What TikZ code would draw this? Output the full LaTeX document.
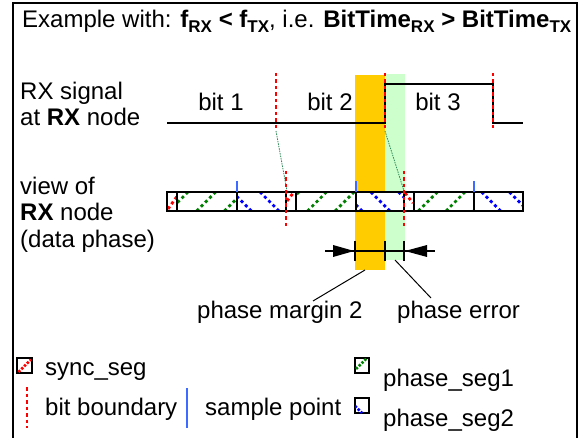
\documentclass[tikz,border=0pt]{standalone}
\usepackage{fontspec}
\setmainfont{Liberation Sans}
\definecolor{orng}{HTML}{FFCC00}
\definecolor{lgreen}{HTML}{CCFFCC}
\definecolor{spblue}{HTML}{3D6BFF}
\definecolor{dgreen}{HTML}{008000}
\definecolor{leadgreen}{HTML}{2E8B57}
\newcommand\sbs[1]{\raisebox{-0.2em}{\fontsize{17bp}{17bp}\selectfont #1}}
\begin{document}
\begin{tikzpicture}[x=1bp,y=-1bp,
  txt/.style={anchor=base west, inner sep=0pt, font=\fontsize{24bp}{28bp}\selectfont},
  sig/.style={line width=2.4bp, line join=miter},
  bb/.style={draw=red, line width=2.2bp, dash pattern=on 3.5bp off 3bp},
  spt/.style={draw=spblue, line width=2.2bp},
  greendot/.style={draw=dgreen, line width=2.8bp, dash pattern=on 3bp off 3bp},
  bluedot/.style={draw=blue, line width=2.8bp, dash pattern=on 3bp off 3bp},
  reddot/.style={draw=red, line width=2.8bp, dash pattern=on 3bp off 3bp},
  barline/.style={line width=2.2bp},
  leader/.style={draw=leadgreen, line width=0.8bp, dash pattern=on 1.5bp off 1bp},
  thinblack/.style={line width=1bp}
]
\useasboundingbox (0,0) rectangle (580,438);
% frame
\draw[line width=2bp] (13,438) -- (13,3) -- (577,3) -- (577,438);

% title
\node[txt] (title) at (22,28) {Example with: \textbf{f\sbs{RX} < f\sbs{TX}}, i.e. \textbf{BitTime\sbs{RX} > BitTime\sbs{TX}}};

% left labels
\node[txt] (l1) at (20,100) {RX signal};
\node[txt] (l2) at (20,126) {at \textbf{RX} node};
\node[txt] (l3) at (20,195) {view of};
\node[txt] (l4) at (20,221) {\textbf{RX} node};
\node[txt] (l5) at (20,248) {(data phase)};

% highlight regions
\fill[orng] (355,75) rectangle (385,270);
\fill[lgreen] (385,74) rectangle (405,260);

% signal
\coordinate (s0) at (167,123);
\coordinate (s1) at (385,123);
\coordinate (s2) at (385,84);
\coordinate (s3) at (493,84);
\coordinate (s4) at (493,123);
\coordinate (s5) at (523,123);
\draw[sig] (s0) -- (s1) -- (s2) -- (s3) -- (s4) -- (s5);

\node[txt, anchor=base] (b1) at (221,111) {bit 1};
\node[txt, anchor=base] (b2) at (330,111) {bit 2};
\node[txt, anchor=base] (b3) at (438,111) {bit 3};

% bit boundaries of signal
\coordinate (bt1) at (276,73); \coordinate (bb1) at (276,131);
\coordinate (bt2) at (385,73); \coordinate (bb2) at (385,131);
\coordinate (bt3) at (493,73); \coordinate (bb3) at (493,131);
\draw[bb] (bt1) -- (bb1);
\draw[bb] (bt2) -- (bb2);
\draw[bb] (bt3) -- (bb3);

% green leaders
\coordinate (r1) at (287,191);
\coordinate (r2) at (404,191);
\draw[leader] (bb1) -- (r1);
\draw[leader] (bb2) -- (r2);

% RX view bar
\fill[white] (167,192) rectangle (523,211);
% sync segments
\begin{scope}\clip (167,192) rectangle (177,211);
  \draw[reddot] (168,209) -- (178,195);
\end{scope}
\begin{scope}\clip (286,192) rectangle (296,211);
  \draw[reddot] (287,201) -- (294,192);
\end{scope}
\begin{scope}\clip (404,192) rectangle (414,211);
  \draw[reddot] (405,193) -- (413,203);
\end{scope}
% phase_seg1
\foreach \a/\b in {177/237, 296/356, 414/474}{
  \begin{scope}\clip (\a,192) rectangle (\b,211);
    \foreach \k in {-1,...,14} {\draw[greendot] ({169+27.7*\k},211) -- ++(19,-19);}
  \end{scope}
}
% phase_seg2
\foreach \a/\b in {237/286, 356/404, 474/523}{
  \begin{scope}\clip (\a,192) rectangle (\b,211);
    \foreach \k in {-4,...,12} {\draw[bluedot] ({260+27.7*\k},192) -- ++(19,19);}
  \end{scope}
}
\draw[barline] (167,192) rectangle (523,211);
\foreach \x in {177,237,286,296,356,404,414,474}{
  \draw[barline] (\x,192) -- (\x,211);
}
% sample points
\foreach \x in {237,356,474}{
  \draw[spt] (\x,181) -- (\x,192);
}
% RX bit boundaries
\draw[bb] (286,171) -- (286,229);
\draw[bb] (404,171) -- (404,229);

% measurement arrows
\coordinate (m0) at (325,251);
\coordinate (m1) at (435,251);
\draw[thinblack, line width=1.3bp] (m0) -- (m1);
\fill (333,245) -- (354,251) -- (333,257) -- cycle;
\fill (427,245) -- (405,251) -- (427,257) -- cycle;
\foreach \x in {355,385,404}{
  \draw[thinblack, line width=1.3bp] (\x,241) -- (\x,261);
}

% labels below
\node[txt] (pm2) at (197,318) {phase margin 2};
\node[txt] (pe) at (397,318) {phase error};
\coordinate (o1) at (365,270);
\coordinate (g1) at (395,260);
\draw[thinblack] (o1) -- (313,301);
\draw[thinblack] (g1) -- (431,298);

% legend
\draw[line width=1.6bp] (17,358) rectangle (32,373);
\draw[reddot, dash pattern=on 2.4bp off 1.6bp] (18.5,372) -- (31,359.5);
\node[txt] (lsync) at (45,375) {sync\_seg};

\draw[bb] (27,387) -- (27,428);
\node[txt] (lbb) at (45,415) {bit boundary};

\draw[spt] (187,388) -- (187,428);
\node[txt] (lsp) at (205,415) {sample point};

\draw[line width=1.6bp] (355,358) rectangle (369,373);
\begin{scope}\clip (355,358) rectangle (369,373);
  \draw[greendot, dash pattern=on 2.4bp off 1.6bp] (356,369) -- (367,358);
\end{scope}
\node[txt] (lps1) at (383,386) {phase\_seg1};

\draw[line width=1.6bp] (355,398) rectangle (369,413);
\begin{scope}\clip (355,398) rectangle (369,413);
  \draw[bluedot, dash pattern=on 2.4bp off 1.6bp] (355,406) -- (362,413);
\end{scope}
\node[txt] (lps2) at (383,426) {phase\_seg2};
\end{tikzpicture}
\end{document}
